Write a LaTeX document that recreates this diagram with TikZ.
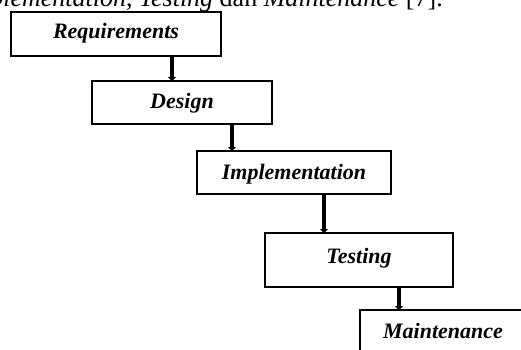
\documentclass[tikz,border=0pt]{standalone}
\usepackage{fontspec}
\setmainfont{Liberation Serif}
\usetikzlibrary{arrows.meta}
\begin{document}
\begin{tikzpicture}[x=1pt,y=-1pt,
  phasebox/.style={draw=black,line width=1.6pt,fill=none},
  phaselabel/.style={font=\fontsize{22}{24}\selectfont\bfseries\itshape,inner sep=0pt,anchor=base},
  flow/.style={line width=3.6pt,-{Triangle[width=8pt,length=4pt]}}]
\useasboundingbox (0,0) rectangle (521,350);
\clip (0,0) rectangle (521,350);
\node[inner sep=0pt,anchor=base east,font=\fontsize{26}{29}\selectfont] (top) at (443,7)
  {\textit{Implementation}, \textit{Testing} dan \textit{Maintenance} [7].};
\draw[phasebox] (11,12) rectangle (221,56);
\coordinate (reqB) at (172,56);
\node[phaselabel] (req) at (116,39) {Requirements};
\draw[phasebox] (92,81) rectangle (272,124);
\coordinate (desT) at (172,81);
\coordinate (desB) at (232,124);
\node[phaselabel] (des) at (182,109) {Design};
\draw[phasebox] (197,151) rectangle (391,194);
\coordinate (impT) at (232,151);
\coordinate (impB) at (324,194);
\node[phaselabel] (imp) at (294,179) {Implementation};
\draw[phasebox] (265,233) rectangle (453,287);
\coordinate (tesT) at (324,233);
\coordinate (tesB) at (399,287);
\node[phaselabel] (tes) at (359,263) {Testing};
\draw[phasebox] (360,310) rectangle (526,380);
\coordinate (maiT) at (399,310);
\node[phaselabel] (mai) at (443,338) {Maintenance};
\draw[flow] (reqB) -- (desT);
\draw[flow] (desB) -- (impT);
\draw[flow] (impB) -- (tesT);
\draw[flow] (tesB) -- (maiT);
\end{tikzpicture}
\end{document}
